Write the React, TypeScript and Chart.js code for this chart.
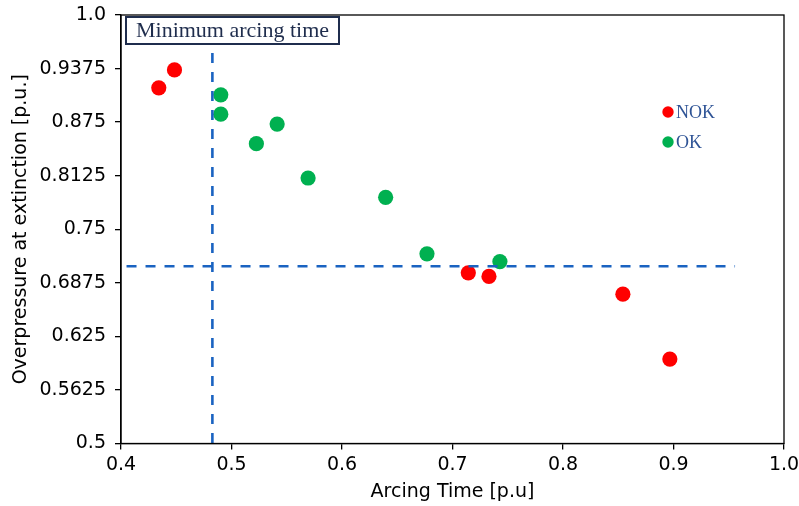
import React, { useEffect, useRef } from 'react';
import { Chart, registerables } from 'chart.js';

Chart.register(...registerables);

// ---- data ----
const nokTimes = [0.4342, 0.4484, 0.7143, 0.733, 0.8542, 0.8967];
const nokPressures = [0.915, 0.9359, 0.6992, 0.6949, 0.6742, 0.5985];
const okTimes = [0.4903, 0.4903, 0.5225, 0.5413, 0.5693, 0.6395, 0.6769, 0.7429];
const okPressures = [0.9068, 0.8843, 0.8498, 0.8727, 0.8098, 0.7872, 0.7213, 0.7123];

const xTickValues = [0.4, 0.5, 0.6, 0.7, 0.8, 0.9, 1.0];
const xTickLabels = ['0.4', '0.5', '0.6', '0.7', '0.8', '0.9', '1.0'];
const yTickValues = [0.5, 0.5625, 0.625, 0.6875, 0.75, 0.8125, 0.875, 0.9375, 1.0];
const yTickLabels = ['0.5', '0.5625', '0.625', '0.6875', '0.75', '0.8125', '0.875', '0.9375', '1.0'];

const minArcingTime = 0.4827;
const minArcingLineY = [0.9557, 0.5];
const pressureThreshold = 0.7069;
const thresholdLineX = [0.405, 0.9557];

const legendLabels = ['NOK', 'OK'];
const annotationText = 'Minimum arcing time';
const xTitle = 'Arcing Time [p.u]';
const yTitle = 'Overpressure at extinction [p.u.]';

const RED = '#FF0000';
const GREEN = '#00B050';
const DASH_BLUE = '#1A63C1';
const AXIS_FONT = { family: '"DejaVu Sans", sans-serif', size: 19 };

const overlayPlugin = {
  id: 'overlay',
  afterDraw(chart: any) {
    const { ctx, chartArea } = chart;
    const { left, top, right, bottom } = chartArea;
    ctx.save();
    // frame
    ctx.strokeStyle = '#000';
    ctx.lineWidth = 1.3;
    ctx.strokeRect(left, top, right - left, bottom - top);

    // annotation box
    const bx = left + 5;
    const by = top + 2;
    const bw = 213;
    const bh = 27;
    ctx.fillStyle = '#fff';
    ctx.fillRect(bx, by, bw, bh);
    ctx.strokeStyle = '#1F2D4D';
    ctx.lineWidth = 2;
    ctx.strokeRect(bx, by, bw, bh);
    ctx.fillStyle = '#1F2D4D';
    ctx.font = '22px "Liberation Serif", serif';
    ctx.textAlign = 'center';
    ctx.textBaseline = 'middle';
    ctx.fillText(annotationText, bx + bw / 2, by + bh / 2 + 1);

    // legend
    const colors = [RED, GREEN];
    const lx = 668;
    const ly = [112, 142];
    ctx.font = '18px "Liberation Serif", serif';
    ctx.textAlign = 'left';
    legendLabels.forEach((lab, i) => {
      ctx.fillStyle = colors[i];
      ctx.beginPath();
      ctx.arc(lx, ly[i], 5.7, 0, Math.PI * 2);
      ctx.fill();
      ctx.fillStyle = '#2F5496';
      ctx.fillText(lab, lx + 8, ly[i] + 1);
    });
    ctx.restore();
  },
};

export default function App() {
  const ref = useRef<HTMLCanvasElement | null>(null);

  useEffect(() => {
    if (!ref.current) return;
    const chart = new Chart(ref.current, {
      type: 'scatter',
      data: {
        datasets: [
          {
            label: 'NOK',
            data: nokTimes.map((x, i) => ({ x, y: nokPressures[i] })),
            backgroundColor: RED,
            borderWidth: 0,
            pointRadius: 7.6,
            order: 2,
          },
          {
            label: 'OK',
            data: okTimes.map((x, i) => ({ x, y: okPressures[i] })),
            backgroundColor: GREEN,
            borderWidth: 0,
            pointRadius: 7.6,
            order: 2,
          },
          {
            label: 'Minimum arcing time',
            type: 'line',
            data: minArcingLineY.map((y) => ({ x: minArcingTime, y })),
            borderColor: DASH_BLUE,
            borderWidth: 2.6,
            borderDash: [10, 9],
            pointRadius: 0,
            showLine: true,
            fill: false,
            order: 1,
          } as any,
          {
            label: 'Threshold',
            type: 'line',
            data: thresholdLineX.map((x) => ({ x, y: pressureThreshold })),
            borderColor: DASH_BLUE,
            borderWidth: 2.6,
            borderDash: [10, 9],
            pointRadius: 0,
            showLine: true,
            fill: false,
            order: 1,
          } as any,
        ],
      },
      options: {
        responsive: false,
        animation: false,
        layout: { padding: { top: 15, right: 15, left: 0, bottom: 0 } },
        plugins: { legend: { display: false }, tooltip: { enabled: false } },
        scales: {
          x: {
            type: 'linear',
            min: 0.4,
            max: 1.0,
            afterBuildTicks: (scale: any) => {
              scale.ticks = xTickValues.map((v) => ({ value: v }));
            },
            afterFit: (scale: any) => {
              scale.height = 62.5;
              scale.paddingLeft = 0;
              scale.paddingRight = 0;
            },
            ticks: {
              callback: (_v: any, i: number) => xTickLabels[i],
              font: AXIS_FONT,
              color: '#000',
              padding: 4,
              maxRotation: 0,
              autoSkip: false,
            },
            grid: {
              display: true,
              drawOnChartArea: false,
              drawTicks: true,
              tickLength: 6,
              color: '#000',
              lineWidth: 1.3,
            },
            border: { display: true, color: '#000', width: 1.3 },
            title: {
              display: true,
              text: xTitle,
              font: AXIS_FONT,
              color: '#000',
              padding: { top: 0, bottom: 3 },
            },
          },
          y: {
            type: 'linear',
            min: 0.5,
            max: 1.0,
            afterBuildTicks: (scale: any) => {
              scale.ticks = yTickValues.map((v) => ({ value: v }));
            },
            afterFit: (scale: any) => {
              scale.width = 121;
              scale.paddingTop = 0;
              scale.paddingBottom = 0;
            },
            ticks: {
              callback: (_v: any, i: number) => yTickLabels[i],
              font: AXIS_FONT,
              color: '#000',
              padding: 9,
              autoSkip: false,
            },
            grid: {
              display: true,
              drawOnChartArea: false,
              drawTicks: true,
              tickLength: 6,
              color: '#000',
              lineWidth: 1.3,
            },
            border: { display: true, color: '#000', width: 1.3 },
            title: {
              display: true,
              text: yTitle,
              font: AXIS_FONT,
              color: '#000',
              padding: { top: 10, bottom: 0 },
            },
          },
        },
      },
      plugins: [overlayPlugin],
    } as any);
    return () => chart.destroy();
  }, []);

  return (
    <div style={{ position: 'fixed', left: 0, top: 0, width: 799, height: 506, background: '#fff' }}>
      <canvas ref={ref} width={799} height={506} style={{ display: 'block', width: 799, height: 506 }} />
    </div>
  );
}
